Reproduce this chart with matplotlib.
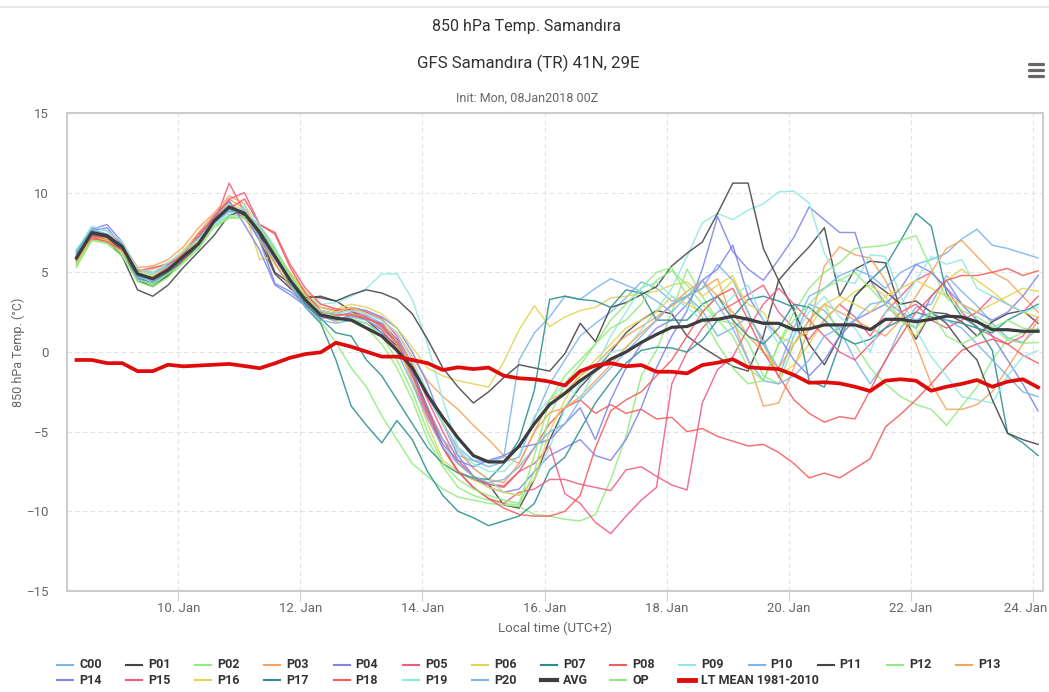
import matplotlib
matplotlib.use('Agg')
import matplotlib.pyplot as plt
import matplotlib.transforms as mtransforms
from matplotlib.lines import Line2D
import pandas as pd

plt.rcParams['font.family'] = ['Roboto', 'DejaVu Sans']

# 6-hourly steps, local time (UTC+2), run 08Jan2018 00Z
times = pd.date_range('2018-01-08 08:00', periods=64, freq='6h')

c00 = [6.3, 7.8, 7.6, 6.8, 5.1, 4.9, 5.4, 6.2, 7.0, 8.2, 9.0, 8.9, 7.3, 5.6, 4.0, 3.0,
       2.4, 2.2, 2.5, 2.3, 1.8, 0.8, -0.8, -2.8, -4.5, -6.0, -6.8, -7.2, -6.9, -6.6, -4.2, -2.0,
       -0.5, 1.0, 1.8, 2.5, 3.4, 4.4, 4.0, 3.2, 3.5, 2.6, 1.0, 1.5, 2.2, 0.8, -1.6, 1.0,
       3.0, 2.6, 1.4, -0.5, -2.0, -0.6, 1.5, 2.8, 3.0, 4.8, 3.8, 2.9, 1.8, 0.9, 0.6, 1.5]
p01 = [5.7, 7.3, 7.0, 6.0, 3.9, 3.5, 4.2, 5.3, 6.3, 7.3, 8.6, 8.8, 7.0, 4.9, 4.0, 3.5,
       3.4, 3.2, 2.6, 2.0, 1.2, 0.4, -1.2, -3.5, -6.0, -7.5, -8.0, -8.3, -9.6, -9.8, -8.0, -5.5,
       -3.5, -2.2, -1.2, 0.0, 1.2, 2.0, 2.6, 2.4, 1.0, 0.3, -0.3, -0.9, -1.2, 1.0, 4.5, 5.6,
       6.6, 7.8, 3.5, 5.2, 5.7, 5.6, 2.6, 0.8, 2.5, 2.4, 1.9, 1.0, 1.9, 2.4, 2.6, 1.8]
p02 = [5.3, 7.1, 7.0, 6.3, 4.6, 4.2, 4.8, 5.7, 6.6, 8.0, 8.5, 8.6, 7.6, 6.2, 4.6, 3.2,
       1.9, 0.6, -1.0, -2.2, -4.0, -5.5, -7.0, -7.8, -8.6, -9.1, -9.3, -9.5, -9.6, -9.7, -10.2, -10.3,
       -10.5, -10.6, -10.2, -8.0, -5.3, -1.5, 0.1, 2.5, 5.2, 3.5, 2.0, 1.8, 0.6, -1.5, -2.0, 0.5,
       2.0, 3.0, 1.0, 0.5, -1.0, -2.0, -2.8, -3.3, -3.6, -4.6, -3.4, -2.2, -0.5, 0.8, 1.2, 1.4]
p03 = [5.6, 7.2, 7.1, 6.5, 5.0, 5.2, 5.6, 6.3, 7.5, 8.6, 9.6, 9.0, 7.2, 5.5, 4.2, 3.0,
       2.0, 2.6, 2.8, 2.5, 2.0, 1.2, -0.3, -1.8, -2.8, -3.6, -4.6, -5.5, -6.5, -7.0, -5.0, -3.0,
       -2.5, -1.5, -0.8, 0.2, 1.0, 1.6, 2.2, 2.9, 3.5, 4.0, 4.6, 2.0, -0.5, -3.4, -3.2, -1.0,
       1.5, 5.4, 6.6, 6.1, 5.9, 4.5, 2.5, 0.5, -2.0, -3.6, -3.6, -3.3, -2.5, -1.0, 0.5, 2.0]
p04 = [6.0, 7.7, 8.0, 6.9, 5.0, 4.4, 5.0, 6.0, 6.9, 8.3, 9.4, 8.5, 7.0, 4.3, 3.8, 3.0,
       2.6, 2.4, 2.8, 2.6, 2.2, 1.5, 0.0, -2.0, -4.5, -6.5, -7.8, -8.5, -8.8, -8.6, -7.5, -6.5,
       -6.0, -5.5, -6.5, -6.8, -5.5, -3.5, -1.0, 1.0, 2.6, 5.2, 8.5, 6.3, 5.2, 4.5, 5.8, 7.2,
       9.1, 8.3, 7.5, 7.5, 4.5, 3.0, 2.0, 1.5, 3.5, 4.5, 3.0, 2.0, 1.0, -0.5, -2.0, -3.7]
p05 = [5.8, 7.2, 7.2, 6.4, 4.8, 4.6, 5.2, 5.9, 6.5, 8.0, 10.6, 8.8, 7.9, 6.5, 4.8, 3.5,
       2.8, 2.6, 2.7, 2.5, 2.1, 1.0, -0.8, -3.0, -5.0, -6.8, -7.8, -8.3, -8.5, -7.5, -7.0, -5.9,
       -8.9, -9.5, -10.7, -11.4, -10.3, -9.3, -8.5, -2.0, 0.0, 1.5, 2.5, 3.0, 3.6, 4.2, 2.5, 1.5,
       0.8, 2.0, 3.0, 2.2, 1.0, 2.5, 3.5, 4.5, 5.0, 4.0, 2.5, 1.5, 1.0, 0.5, 1.0, 2.2]
p06 = [5.5, 7.0, 7.2, 6.6, 5.2, 4.8, 5.4, 6.4, 7.3, 8.5, 9.3, 8.9, 5.8, 6.0, 5.0, 3.8,
       3.0, 2.7, 3.0, 2.8, 2.4, 1.5, 0.3, -1.0, -1.5, -1.8, -2.0, -2.2, -0.6, 1.4, 2.9, 1.6,
       2.2, 2.6, 2.8, 3.4, 3.5, 3.7, 3.8, 4.2, 4.4, 3.5, 4.2, 4.8, 2.5, 0.5, -1.5, -0.8,
       0.5, 2.0, 3.0, 3.8, 4.2, 3.5, 2.0, 1.0, 2.5, 4.5, 5.2, 4.5, 3.8, 3.0, 2.5, 2.2]
p07 = [6.4, 7.6, 7.4, 6.6, 4.7, 4.3, 4.9, 5.8, 6.7, 8.1, 8.8, 8.8, 7.7, 6.2, 4.2, 2.8,
       1.8, -0.5, -3.4, -4.6, -5.7, -4.3, -5.5, -7.5, -9.0, -10.0, -10.4, -10.9, -10.6, -10.3, -9.5, -7.4,
       -6.6, -4.9, -3.2, -1.9, -0.7, 0.1, 0.3, 0.25, 0.0, 0.75, 2.0, 2.2, 3.3, 3.5, 3.2, 2.8,
       -1.8, -2.2, 0.5, 3.5, 4.5, 5.4, 7.0, 8.7, 7.9, 3.7, 2.2, 1.6, 0.1, -5.1, -5.7, -6.5]
p08 = [6.1, 7.4, 7.0, 6.5, 4.9, 4.7, 5.3, 6.2, 7.2, 8.4, 9.0, 8.4, 7.3, 6.4, 4.9, 3.4,
       2.5, 2.3, 2.4, 2.0, 1.4, 0.2, -1.5, -3.5, -5.5, -7.0, -7.8, -8.3, -8.4, -7.5, -6.0, -4.5,
       -3.5, -3.0, -3.85, -3.3, -3.85, -3.6, -4.2, -4.1, -5.0, -4.8, -5.3, -5.6, -5.9, -5.8, -6.3, -7.0,
       -7.9, -7.6, -7.9, -7.3, -6.7, -4.7, -3.9, -3.0, -2.0, -0.9, 0.1, 0.5, 0.8, 0.5, -0.2, -0.7]
p09 = [6.2, 7.6, 7.3, 6.7, 5.0, 4.9, 5.5, 6.1, 6.8, 8.0, 8.8, 9.0, 7.8, 6.4, 4.7, 3.5,
       3.0, 3.1, 3.5, 4.0, 4.9, 4.9, 3.3, 0.5, -3.0, -6.0, -7.3, -8.0, -8.8, -9.0, -8.0, -6.0,
       -3.5, -2.0, -1.0, 0.0, 0.2, 1.4, 2.6, 4.0, 6.0, 8.1, 8.7, 8.3, 8.9, 9.3, 10.05, 10.1,
       9.35, 6.2, 4.5, 4.3, 6.1, 6.0, 3.5, 1.4, -0.3, -1.5, -2.8, -3.0, -3.2, -1.5, -0.3, 0.1]
p10 = [6.0, 7.5, 7.2, 6.5, 5.2, 5.0, 5.4, 6.0, 6.9, 8.4, 9.2, 8.6, 7.2, 5.8, 4.5, 3.2,
       2.3, 2.0, 2.2, 2.0, 1.5, 0.5, -1.5, -3.8, -5.5, -6.5, -6.8, -6.9, -6.6, -0.5, 1.2, 2.2,
       3.5, 3.3, 4.0, 4.6, 4.2, 3.8, 3.2, 2.5, 3.5, 4.0, 5.5, 4.5, 2.5, 0.5, -1.0, 1.5,
       3.5, 4.0, 4.8, 5.2, 4.8, 4.0, 5.0, 5.5, 5.8, 6.2, 7.1, 7.7, 6.7, 6.5, 6.2, 5.9]
p11 = [5.8, 7.4, 7.2, 6.4, 4.5, 4.1, 4.8, 5.8, 6.7, 8.3, 9.0, 8.6, 7.4, 5.0, 4.3, 3.4,
       3.5, 3.2, 3.6, 3.9, 3.7, 3.3, 2.4, 0.8, -1.0, -2.2, -3.2, -2.5, -1.6, -0.8, -1.0, -1.2,
       -0.1, 1.8, 0.65, 2.8, 3.1, 3.6, 4.1, 5.4, 6.2, 6.9, 8.7, 10.6, 10.6, 6.5, 4.5, 2.6,
       0.5, -0.8, 1.0, 3.5, 4.5, 3.8, 3.0, 3.2, 2.5, 1.8, 0.5, -0.5, -3.0, -5.1, -5.5, -5.8]
p12 = [5.4, 7.0, 6.9, 6.2, 4.4, 4.1, 4.7, 5.6, 6.6, 7.9, 8.4, 8.5, 7.7, 6.5, 4.9, 3.6,
       2.6, 2.2, 2.0, 1.5, 0.5, -1.0, -3.0, -5.5, -7.2, -8.5, -9.0, -9.3, -9.5, -9.6, -7.5, -4.0,
       -2.0, -0.8, 0.5, 2.0, 3.0, 4.0, 5.0, 5.3, 3.5, 2.2, 0.5, -1.0, -2.0, -1.8, 0.5, 2.5,
       4.0, 5.0, 5.6, 6.5, 6.6, 6.7, 7.0, 7.3, 5.25, 3.4, 2.6, 2.2, 1.6, 0.75, 0.55, 0.6]
p13 = [5.9, 7.5, 7.4, 6.9, 5.3, 5.4, 5.8, 6.6, 7.8, 8.7, 9.8, 9.3, 7.0, 5.6, 4.1, 3.1,
       2.3, 1.9, 2.4, 2.2, 1.6, 0.8, -0.8, -2.6, -4.4, -6.2, -7.3, -8.0, -8.2, -7.0, -5.0, -3.8,
       -3.5, -2.8, -1.8, -0.8, 0.3, 1.2, 2.0, 3.0, 3.8, 4.5, 3.5, 2.5, 1.0, 0.0, -1.0, 0.5,
       2.0, 3.0, 2.5, 2.0, 1.5, 1.0, 2.0, 3.5, 5.0, 6.5, 7.0, 6.0, 5.0, 4.5, 3.5, 2.5]
p14 = [6.1, 7.6, 7.8, 6.7, 4.6, 4.3, 5.0, 6.1, 7.2, 8.5, 9.5, 8.0, 6.4, 4.2, 3.6, 2.9,
       2.2, 2.0, 2.3, 2.1, 1.8, 0.8, -1.2, -3.6, -5.8, -6.8, -7.2, -6.8, -6.5, -6.0, -5.8, -5.5,
       -4.5, -3.5, -5.5, -3.0, -1.0, 0.5, 1.5, 2.0, 3.0, 4.5, 5.2, 6.7, 3.5, 2.0, 1.0, -0.5,
       -1.5, -0.5, 1.0, 2.0, 2.5, 3.0, 4.0, 5.5, 5.0, 4.0, 3.0, 2.5, 2.0, 2.5, 3.5, 4.8]
p15 = [5.7, 7.1, 7.0, 6.3, 4.9, 4.6, 5.0, 5.8, 6.8, 8.4, 9.6, 10.0, 8.0, 7.5, 5.5, 4.0,
       3.0, 2.7, 2.6, 2.2, 1.6, 0.5, -1.8, -4.0, -6.0, -7.5, -8.5, -9.2, -9.5, -8.8, -8.6, -8.0,
       -8.0, -8.3, -8.5, -8.7, -7.4, -7.2, -7.8, -8.35, -8.66, -3.2, -1.1, -0.3, 1.5, 3.0, 4.0, 3.0,
       2.0, 1.0, 0.0, -0.5, 0.5, 1.5, 2.5, 3.0, 2.0, 1.5, 2.0, 2.5, 3.5, 3.0, 2.5, 3.5]
p16 = [5.6, 7.2, 7.0, 6.3, 5.0, 4.7, 5.1, 6.1, 7.0, 8.2, 9.0, 8.9, 7.4, 6.2, 4.8, 3.6,
       2.8, 2.5, 2.8, 2.4, 2.0, 0.5, -1.8, -4.5, -6.8, -7.5, -8.0, -8.5, -8.8, -9.0, -8.0, -5.0,
       -3.0, -1.5, -0.5, 0.5, 1.5, 2.0, 2.5, 3.5, 3.0, 2.5, 3.5, 4.5, 3.0, 2.5, 1.0, 0.5,
       1.5, 3.0, 3.5, 3.0, 2.5, 3.5, 4.0, 4.5, 4.0, 3.5, 3.0, 2.5, 3.0, 3.5, 4.0, 3.8]
p17 = [6.2, 7.5, 7.3, 6.7, 4.8, 4.5, 5.0, 5.9, 6.8, 8.2, 8.9, 8.7, 7.6, 6.1, 4.4, 3.0,
       2.1, 1.2, 1.0, -0.5, -1.5, -3.0, -4.5, -6.0, -7.0, -7.6, -7.9, -8.0, -7.0, -5.5, -2.4, 3.3,
       3.5, 3.3, 3.2, 2.8, 3.9, 3.7, 2.0, 2.0, 2.0, 3.0, 3.5, 2.0, 1.0, 0.5, 1.5, 3.0,
       2.8, 2.0, 1.0, 0.5, 0.8, 1.5, 2.0, 2.5, 2.2, 2.0, 1.8, 1.5, 1.2, 2.0, 2.5, 3.0]
p18 = [6.0, 7.2, 6.9, 6.4, 5.1, 5.3, 5.5, 6.1, 7.4, 8.4, 9.0, 9.6, 8.0, 7.4, 5.3, 3.7,
       2.6, 2.4, 2.3, 2.1, 1.7, 0.6, -1.4, -3.8, -6.0, -7.5, -8.5, -9.2, -9.8, -10.2, -10.3, -10.3,
       -10.0, -9.0, -6.0, -3.7, -3.0, -2.5, -1.5, -0.5, 1.0, 2.5, 3.5, 4.0, 2.0, 0.0, -1.5, -3.0,
       -3.85, -4.4, -4.06, -4.2, -2.4, -0.5, 1.0, 2.5, 3.5, 4.5, 4.8, 4.8, 5.0, 5.25, 4.8, 5.1]
p19 = [6.4, 7.9, 7.6, 6.9, 5.2, 5.0, 5.6, 6.3, 7.1, 8.0, 8.6, 9.2, 8.0, 6.6, 4.6, 3.3,
       2.6, 2.4, 2.6, 2.4, 2.0, 1.2, -0.5, -2.5, -4.5, -6.2, -7.0, -7.5, -7.5, -6.5, -4.0, -3.0,
       -2.0, -3.0, -1.0, 1.0, 2.5, 4.0, 4.4, 3.5, 2.8, 2.0, 2.5, 3.5, 4.2, 2.0, 0.5, 1.0,
       2.5, 3.5, 2.2, 1.5, 0.0, 2.5, 3.0, 4.5, 6.0, 5.5, 5.8, 4.0, 3.5, 3.0, 2.5, 2.8]
p20 = [6.1, 7.7, 7.4, 6.5, 4.7, 4.5, 5.1, 6.0, 6.7, 8.1, 8.9, 8.9, 7.1, 5.9, 4.3, 2.8,
       2.0, 1.8, 2.0, 1.8, 1.2, 0.0, -2.0, -4.2, -6.0, -7.0, -7.8, -8.2, -8.0, -7.2, -6.0, -5.0,
       -4.5, -3.0, -2.0, -1.0, 0.0, 1.0, 2.0, 3.0, 3.5, 4.5, 3.0, 1.5, -0.5, -1.8, -2.0, -1.5,
       -0.5, 1.0, 1.5, 2.0, 3.0, 3.2, 2.5, 2.0, 2.5, 2.0, 1.5, 0.5, -0.5, -1.5, -2.5, -2.8]
op = [5.5, 7.0, 6.8, 6.0, 4.5, 4.3, 4.9, 5.6, 6.5, 7.8, 8.4, 8.4, 7.5, 6.3, 4.8, 3.4,
      2.4, 2.0, 2.1, 1.8, 1.0, -0.5, -2.5, -5.0, -7.0, -8.0, -8.6, -9.0, -9.3, -9.5, -6.5, -3.0,
      -1.5, -0.5, 0.5, 1.5, 2.0, 3.0, 4.5, 5.1, 4.2, 3.0, 2.0, 1.0, -1.0, -1.8, 0.5, 2.0,
      3.0, 4.0, 4.5, 5.0, 4.0, 3.0, 2.0, 1.5, 2.5, 1.0, 0.5, 1.0, 1.5, 2.0, 1.5, 1.4]
avg = [5.9, 7.5, 7.3, 6.6, 4.9, 4.6, 5.15, 6.0, 6.8, 8.2, 9.1, 8.7, 7.5, 6.0, 4.5, 3.26,
       2.32, 2.12, 2.0, 1.5, 1.0, 0.1, -1.0, -2.7, -4.1, -5.4, -6.5, -6.9, -6.9, -5.9, -4.5, -3.3,
       -2.6, -1.8, -1.15, -0.45, 0.0, 0.6, 1.1, 1.55, 1.6, 2.0, 2.05, 2.25, 2.05, 1.8, 1.8, 1.4,
       1.45, 1.7, 1.7, 1.7, 1.4, 2.05, 2.05, 1.9, 2.05, 2.25, 2.2, 1.9, 1.4, 1.4, 1.3, 1.3]
lt_mean = [-0.5, -0.5, -0.7, -0.7, -1.2, -1.2, -0.8, -0.9, -0.85, -0.8, -0.75, -0.88, -1.02, -0.71, -0.36, -0.13,
           -0.02, 0.58, 0.33, 0.02, -0.29, -0.29, -0.5, -0.7, -1.13, -0.96, -1.07, -0.98, -1.49, -1.65, -1.71, -1.86,
           -2.1, -1.2, -0.85, -0.7, -0.9, -0.82, -1.24, -1.24, -1.34, -0.82, -0.67, -0.46, -0.96, -1.02, -1.07, -1.44,
           -1.93, -1.9, -1.97, -2.18, -2.45, -1.8, -1.71, -1.8, -2.43, -2.18, -2.0, -1.76, -2.18, -1.86, -1.71, -2.22]

member_names = ['C00'] + ['P%02d' % i for i in range(1, 21)] + ['OP']
member_values = [c00, p01, p02, p03, p04, p05, p06, p07, p08, p09, p10,
                 p11, p12, p13, p14, p15, p16, p17, p18, p19, p20, op]

palette = ['#7cb5ec', '#434348', '#90ed7d', '#f7a35c', '#8085e9',
           '#f15c80', '#e4d354', '#2b908f', '#f45b5b', '#91e8e1']
member_colors = [palette[i % 10] for i in range(21)] + ['#90ed7d']
avg_color = '#3d3d40'
lt_color = '#e00c0c'

W, H = 1049, 692
fig = plt.figure(figsize=(W / 100, H / 100), dpi=100)
ax = fig.add_axes([67 / W, 101 / H, 976 / W, 478 / H])

for vals, col in zip(member_values, member_colors):
    ax.plot(times, vals, color=col, lw=1.05, alpha=0.88, solid_joinstyle='round')
ax.plot(times, avg, color=avg_color, lw=2.3, solid_joinstyle='round')
ax.plot(times, lt_mean, color=lt_color, lw=2.7, solid_joinstyle='round')

ax.set_ylim(-15, 15)
ax.set_yticks(range(-15, 16, 5))
ax.set_xlim(pd.Timestamp('2018-01-08 04:16'), pd.Timestamp('2018-01-24 03:56'))
xt = pd.date_range('2018-01-10', '2018-01-24', freq='2D')
ax.set_xticks(xt)
ax.set_xticklabels([d.strftime('%d. Jan') for d in xt])

ax.grid(True, color='#e2e2e2', linestyle=(0, (4, 3)), lw=0.8)
ax.set_axisbelow(True)
for s in ax.spines.values():
    s.set_color('#cccccc')
    s.set_linewidth(1.5)
ax.tick_params(axis='x', length=7, width=0.8, color='#d0d0d0', labelcolor='#666666',
               labelsize=9.5, pad=1)
ax.tick_params(axis='y', length=0, labelcolor='#666666', labelsize=9.5, pad=13)

# last date label is pulled left so it stays inside the canvas
last = ax.get_xticklabels()[-1]
last.set_transform(last.get_transform() +
                   mtransforms.ScaledTranslation(-7 / 100, 0, fig.dpi_scale_trans))


def fx(px):
    return px / W


def fy(py):
    return 1 - py / H


fig.text(fx(527), fy(27), '850 hPa Temp. Samandıra', ha='center', va='center',
         fontsize=11.5, color='#333333')
fig.text(fx(528), fy(63), 'GFS Samandıra (TR) 41N, 29E', ha='center', va='center',
         fontsize=12.2, color='#333333')
fig.text(fx(527), fy(98), 'Init: Mon, 08Jan2018 00Z', ha='center', va='center',
         fontsize=9, color='#666666')
fig.text(fx(18), fy(352), '850 hPa Temp. (°C)', ha='center', va='center', rotation=90,
         fontsize=9, color='#666666')
fig.text(fx(555), fy(628), 'Local time (UTC+2)', ha='center', va='center',
         fontsize=9.5, color='#666666')

# header rule and menu icon
fig.add_artist(Line2D([0, 1], [fy(7), fy(7)], color='#e8e8e8', lw=1.5))
for yb in (64, 70, 76):
    fig.add_artist(Line2D([fx(1029), fx(1043)], [fy(yb), fy(yb)], color='#666666',
                          lw=2.3, solid_capstyle='round'))

# legend, laid out in two rows
leg_names = ['C00'] + ['P%02d' % i for i in range(1, 21)] + ['AVG', 'OP', 'LT MEAN 1981-2010']
leg_colors = [palette[i % 10] for i in range(21)] + [avg_color, '#90ed7d', lt_color]
leg_widths = [1.5] * 21 + [3.0, 1.5, 3.5]
for i, (nm, col, lw) in enumerate(zip(leg_names, leg_colors, leg_widths)):
    row, colpos = divmod(i, 14)
    x = 57 + colpos * 69.15
    y = 665 + row * 15
    fig.add_artist(Line2D([fx(x), fx(x + 16)], [fy(y), fy(y)], color=col, lw=lw))
    fig.text(fx(x + 22), fy(y), nm, ha='left', va='center', fontsize=9,
             fontweight='bold', color='#333333')

fig.savefig('out.png', dpi=100)
